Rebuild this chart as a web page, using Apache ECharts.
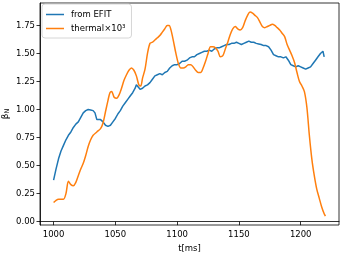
<!DOCTYPE html>
<html><head><meta charset="utf-8">
<script src="https://cdn.jsdelivr.net/npm/echarts@6/dist/echarts.min.js"></script>
<style>html,body{margin:0;padding:0;background:#fff}#c{width:342px;height:253px}</style>
</head><body><div id="c"></div>
<script>
const xTicks = [1000, 1050, 1100, 1150, 1200];
const yTicks = [0, 0.25, 0.5, 0.75, 1.0, 1.25, 1.5, 1.75];
const seriesNames = ['from EFIT', 'thermal×10³'];
const efitT = [1000,1002,1004,1006,1008,1010,1012,1014,1016,1018,1020,1022,1024,1026,1028,1030,1032,1033.5,1035,1036.5,1038,1040,1042,1044,1046,1048,1050,1052,1054,1056,1058,1060,1062,1064,1066,1067,1068.5,1070,1072,1074,1076,1078,1080,1082,1084,1086,1088,1090,1092,1094,1096,1098,1100,1102,1104,1106,1108,1110,1112,1114,1116,1118,1120,1122,1124,1126,1128,1130,1132,1134,1136,1138,1140,1142,1144,1146,1148,1150,1152,1154,1156,1158,1160,1162,1164,1166,1168,1170,1172,1174,1176,1178,1180,1182,1184,1186,1188,1190,1192,1194,1196,1198,1200,1202,1204,1206,1208,1210,1212,1214,1216,1218,1219];
const efitV = [0.37,0.47,0.56,0.63,0.68,0.73,0.77,0.80,0.84,0.87,0.89,0.93,0.97,0.99,1.00,0.995,0.99,0.97,0.91,0.90,0.91,0.89,0.86,0.85,0.86,0.89,0.92,0.96,0.99,1.03,1.06,1.09,1.12,1.15,1.19,1.22,1.21,1.18,1.19,1.21,1.22,1.24,1.27,1.30,1.31,1.32,1.31,1.33,1.34,1.37,1.39,1.40,1.40,1.41,1.43,1.43,1.44,1.46,1.47,1.47,1.49,1.50,1.51,1.52,1.52,1.53,1.52,1.54,1.55,1.55,1.56,1.57,1.58,1.58,1.59,1.59,1.60,1.59,1.58,1.59,1.60,1.61,1.60,1.60,1.59,1.585,1.58,1.57,1.57,1.56,1.53,1.49,1.48,1.47,1.47,1.46,1.47,1.44,1.40,1.39,1.38,1.39,1.38,1.37,1.36,1.37,1.38,1.41,1.44,1.47,1.50,1.52,1.47];
const thermT = [1000,1002,1004,1006,1008,1010,1012,1014,1016,1018,1020,1022,1024,1026,1028,1030,1032,1035,1038,1040,1042,1044,1045.6,1047,1049,1051,1053,1055,1057,1059,1061,1063,1065,1067,1069,1070.5,1072,1074,1076,1078,1080,1082,1084,1086,1088,1090,1092,1093.5,1095,1097,1099,1101,1103,1105,1107,1109,1111,1113,1115,1117,1119,1121,1123,1125,1127,1129,1131,1133,1135,1137,1139,1141,1143,1145,1147,1149,1151,1153,1155,1157,1159,1161,1163,1165,1167,1169,1171,1173,1175,1177,1179,1181,1183,1185,1187,1189,1191,1193,1195,1197,1199,1201,1203,1205,1207,1209,1211,1213,1215,1217,1219,1220];
const thermV = [0.17,0.19,0.20,0.20,0.20,0.25,0.36,0.33,0.32,0.35,0.41,0.47,0.52,0.59,0.67,0.73,0.77,0.80,0.83,0.88,0.98,1.08,1.15,1.16,1.11,1.10,1.13,1.19,1.26,1.31,1.35,1.37,1.35,1.30,1.22,1.21,1.28,1.36,1.50,1.59,1.60,1.62,1.64,1.66,1.69,1.72,1.75,1.75,1.71,1.61,1.50,1.41,1.37,1.37,1.38,1.40,1.40,1.38,1.35,1.33,1.33,1.37,1.43,1.50,1.56,1.56,1.55,1.52,1.47,1.48,1.54,1.60,1.67,1.72,1.74,1.72,1.71,1.73,1.79,1.84,1.87,1.86,1.84,1.82,1.78,1.74,1.73,1.74,1.75,1.76,1.75,1.73,1.71,1.68,1.65,1.58,1.53,1.48,1.42,1.33,1.25,1.21,1.16,1.02,0.77,0.56,0.41,0.29,0.21,0.13,0.07,0.05];

const font = 'DejaVu Sans';
const chart = echarts.init(document.getElementById('c'), null, {renderer: 'canvas'});
chart.setOption({
  animation: false,
  textStyle: {fontFamily: font},
  grid: {left: 40, right: 3, top: 3, bottom: 28, show: true, borderColor: '#000', borderWidth: 0.8, containLabel: false, outerBoundsMode: 'none'},
  legend: {
    left: 42, top: 4, orient: 'vertical', itemGap: 5, itemWidth: 18, itemHeight: 1.5,
    padding: [6, 6, 5, 4], borderColor: '#ccc', borderWidth: 0.8, borderRadius: 3,
    backgroundColor: 'rgba(255,255,255,0.8)',
    icon: 'rect',
    textStyle: {fontFamily: font, fontSize: 8.5, color: '#000', padding: [0, 0, 0, 2]},
    data: seriesNames
  },
  xAxis: {
    type: 'value', min: 989, max: 1231,
    name: 't[ms]', nameLocation: 'middle', nameGap: 19, nameMoveOverlap: false,
    nameTextStyle: {fontFamily: font, fontSize: 8.5, color: '#000'},
    axisLine: {show: true, lineStyle: {color: '#000', width: 0.8}},
    axisTick: {show: true, length: 3.5, lineStyle: {color: '#000', width: 0.8}, customValues: xTicks},
    axisLabel: {fontFamily: font, fontSize: 8.5, color: '#000', margin: 5, customValues: xTicks, formatter: v => String(v)},
    splitLine: {show: false}
  },
  yAxis: {
    type: 'value', min: -0.03, max: 1.95,
    name: '{b|β}{s|N}', nameLocation: 'middle', nameGap: 29, nameRotate: 90, nameMoveOverlap: false,
    nameTextStyle: {rich: {b: {fontFamily: font, fontSize: 9, color: '#000'}, s: {fontFamily: font, fontSize: 6.5, color: '#000', verticalAlign: 'bottom', padding: [4, 0, 0, 0]}}},
    axisLine: {show: true, lineStyle: {color: '#000', width: 0.8}},
    axisTick: {show: true, length: 3.5, lineStyle: {color: '#000', width: 0.8}, customValues: yTicks},
    axisLabel: {fontFamily: font, fontSize: 8.5, color: '#000', margin: 5, customValues: yTicks, formatter: v => v.toFixed(2)},
    splitLine: {show: false}
  },
  series: [
    {name: seriesNames[0], type: 'line', showSymbol: false, symbol: 'none', data: efitT.map((t, i) => [t, efitV[i]]),
     lineStyle: {color: '#1f77b4', width: 1.5}, itemStyle: {color: '#1f77b4'}},
    {name: seriesNames[1], type: 'line', showSymbol: false, symbol: 'none', smooth: 0.3, data: thermT.map((t, i) => [t, thermV[i]]),
     lineStyle: {color: '#ff7f0e', width: 1.5}, itemStyle: {color: '#ff7f0e'}}
  ]
});
</script></body></html>
